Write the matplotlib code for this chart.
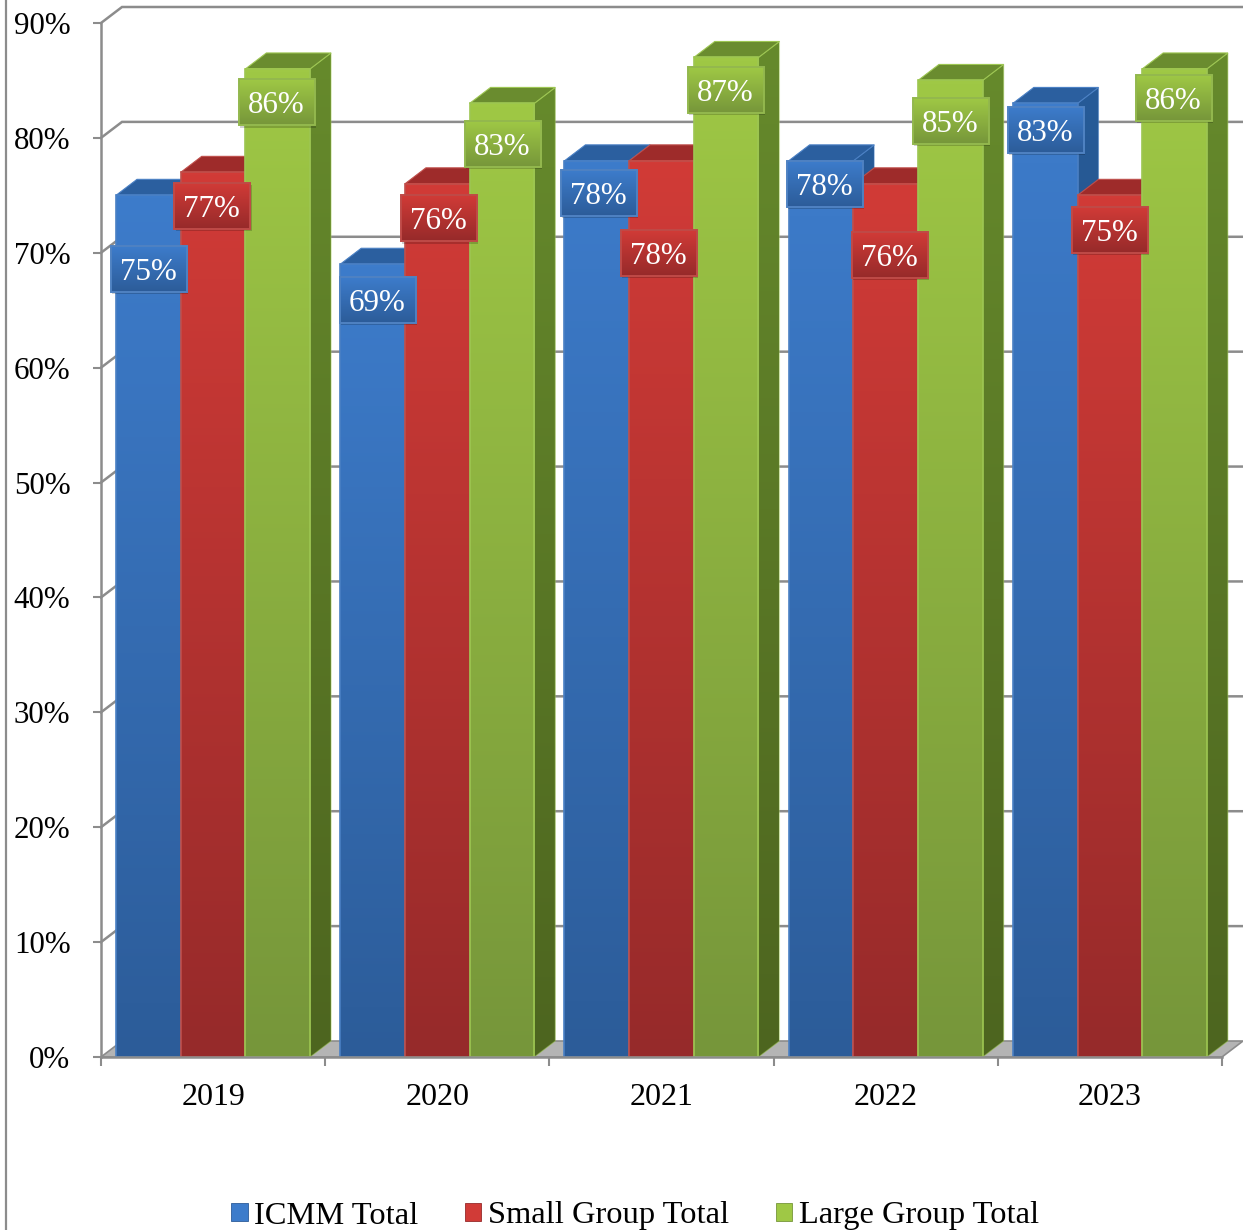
import matplotlib
matplotlib.use("Agg")
import matplotlib.pyplot as plt
import numpy as np
from matplotlib.colors import LinearSegmentedColormap
from matplotlib.lines import Line2D
from matplotlib.patches import Patch, Polygon, Rectangle

years = ["2019", "2020", "2021", "2022", "2023"]
series_names = ["ICMM Total", "Small Group Total", "Large Group Total"]
icmm_total = [75, 69, 78, 78, 83]
small_group = [77, 76, 78, 76, 75]
large_group = [86, 83, 87, 85, 86]
y_ticks = [0, 10, 20, 30, 40, 50, 60, 70, 80, 90]

# where the value boxes sit, one row per series (category units, percent)
label_x = [[0.214, 1.235, 2.221, 3.229, 4.215],
           [0.497, 1.508, 2.489, 3.519, 4.500],
           [0.785, 1.793, 2.788, 3.791, 4.786]]
label_y = [[68.6, 65.9, 75.2, 76.0, 80.7],
           [74.1, 73.0, 70.0, 69.8, 72.0],
           [83.1, 79.5, 84.2, 81.5, 83.5]]

# front top, front bottom, side top, side bottom, cap, edge, box edge
blue = ["#3d7ccb", "#2c5c99", "#275b98", "#1f4674", "#2b5f9f", "#4a80c4", "#4f82c2"]
red = ["#d13b37", "#962a2a", "#a52d2b", "#7a2020", "#9e2b2a", "#bf4f4b", "#bf4a47"]
green = ["#9fc845", "#76963a", "#668a2c", "#4d651f", "#6a8c2f", "#9dc652", "#93b84e"]
palette = [blue, red, green]

GREY = "#8c8c8c"
BAR_W = 0.2885
BAR_START = 0.067
DX = 21 / 224.2   # depth of the 3d effect
DY = 16 / 11.49

plt.rcParams["font.family"] = ["Liberation Serif", "DejaVu Serif"]

fig = plt.figure(figsize=(12.43, 12.30), dpi=100)
ax = fig.add_axes([101 / 1243, 173 / 1230, 1121 / 1243, 1034 / 1230])
ax.set_xlim(0, 5)
ax.set_ylim(0, 90)
ax.patch.set_visible(False)


def ramp(c_top, c_bottom):
    return LinearSegmentedColormap.from_list("ramp", [c_top, c_bottom])


def fill_gradient(extent, c_top, c_bottom, z, clip=None):
    grad = np.linspace(0, 1, 256).reshape(-1, 1)
    im = ax.imshow(grad, extent=extent, aspect="auto", origin="upper",
                   cmap=ramp(c_top, c_bottom), zorder=z, clip_on=True)
    im.set_clip_box(fig.bbox)
    if clip is not None:
        patch = Polygon(clip, closed=True, transform=ax.transData)
        im.set_clip_path(patch)
    return im


# floor and back wall
ax.add_patch(Polygon([(0, 0), (5, 0), (5 + DX, DY), (DX, DY)], closed=True,
                     facecolor="#b4b4b4", edgecolor=GREY, lw=1.2,
                     clip_on=False, zorder=1))
for t in y_ticks[1:]:
    ax.plot([0, DX, 5 + DX], [t, t + DY, t + DY], color=GREY, lw=1.8,
            clip_on=False, zorder=1, solid_joinstyle="miter")

# bars, painted left to right so each one hides the side of the previous
z = 3
for i in range(len(years)):
    for s, values in enumerate([icmm_total, small_group, large_group]):
        c = palette[s]
        v = values[i]
        x0 = i + BAR_START + s * BAR_W
        x1 = x0 + BAR_W
        side = [(x1, 0), (x1 + DX, DY), (x1 + DX, v + DY), (x1, v)]
        fill_gradient([x1, x1 + DX, 0, v + DY], c[2], c[3], z, clip=side)
        ax.add_patch(Polygon(side, closed=True, fill=False, edgecolor=c[5],
                             lw=0.8, alpha=0.5, clip_on=False, zorder=z))
        ax.add_patch(Polygon([(x0, v), (x1, v), (x1 + DX, v + DY), (x0 + DX, v + DY)],
                             closed=True, facecolor=c[4], edgecolor=c[5], lw=0.8,
                             clip_on=False, zorder=z))
        fill_gradient([x0, x1, 0, v], c[0], c[1], z + 0.1)
        ax.add_patch(Rectangle((x0, 0), BAR_W, v, fill=False, edgecolor=c[5],
                               lw=1.2, zorder=z + 0.2))
        z += 1

# value boxes on top of all bars
box_w = 76 / 224.2
box_h = 46 / 11.49
for s, values in enumerate([icmm_total, small_group, large_group]):
    c = palette[s]
    for i, v in enumerate(values):
        cx = label_x[s][i]
        cy = label_y[s][i]
        ax.add_patch(Rectangle((cx - box_w / 2 + 0.006, cy - box_h / 2 - 0.2), box_w, box_h,
                               facecolor="black", alpha=0.18, edgecolor="none",
                               zorder=100))
        fill_gradient([cx - box_w / 2, cx + box_w / 2, cy - box_h / 2, cy + box_h / 2],
                      c[0], c[1], 101)
        ax.add_patch(Rectangle((cx - box_w / 2, cy - box_h / 2), box_w, box_h,
                               fill=False, edgecolor=c[6], lw=1.4, zorder=102))
        ax.text(cx - 0.004, cy, f"{v}%", color="white", fontsize=22.3, ha="center",
                va="center_baseline", zorder=103)

ax.set_xlim(0, 5)
ax.set_ylim(0, 90)

# axes
for name in ["top", "right"]:
    ax.spines[name].set_visible(False)
for name in ["left", "bottom"]:
    ax.spines[name].set_color(GREY)
    ax.spines[name].set_linewidth(1.8)
    ax.spines[name].set_zorder(200)

ax.set_yticks(y_ticks)
ax.set_yticklabels([f"{t}%" for t in y_ticks], fontsize=22.3, va="center_baseline")
ax.set_xticks(range(6))
ax.set_xticklabels([])
ax.set_xticks(np.arange(len(years)) + 0.5, minor=True)
ax.set_xticklabels(years, minor=True, fontsize=23)
ax.tick_params(axis="y", which="major", length=6, width=1.5, color=GREY, pad=16)
ax.tick_params(axis="x", which="major", length=6.5, width=1.5, color=GREY)
ax.tick_params(axis="x", which="minor", length=0, pad=18.5)

# rule down the left of the page
fig.add_artist(Line2D([6 / 1243, 6 / 1243], [0, 1], color=GREY, lw=1.6))

handles = [Patch(facecolor=palette[s][0], edgecolor=palette[s][1], lw=0.6,
                 label=series_names[s]) for s in range(3)]
fig.legend(handles=handles, loc="center", bbox_to_anchor=(635 / 1243, 14 / 1230),
           ncol=3, frameon=False, fontsize=23.4, handlelength=0.5, handleheight=0.5,
           handletextpad=0.2, columnspacing=1.44, borderpad=0, borderaxespad=0)

fig.savefig("out.png", dpi=100)
